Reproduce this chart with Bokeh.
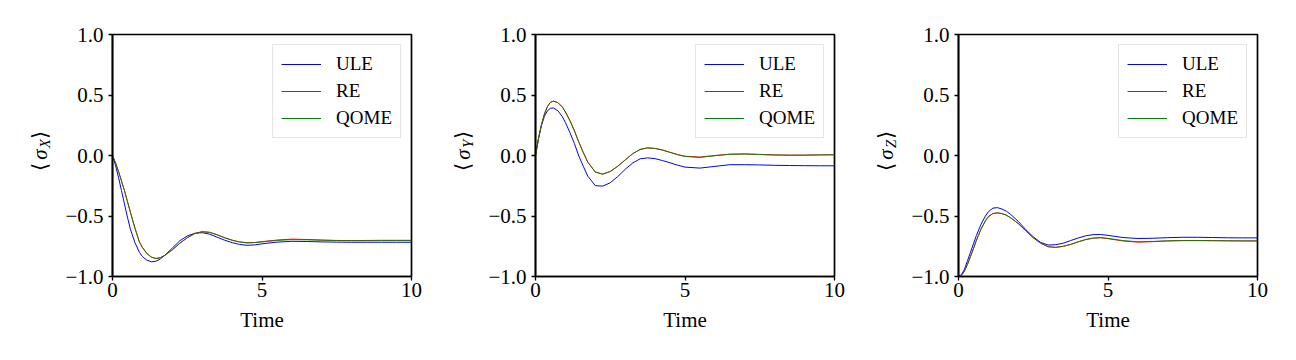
from math import pi
from bokeh.plotting import figure
from bokeh.layouts import row
from bokeh.models import FixedTicker, Legend, LegendItem, Range1d
from bokeh.core.properties import value
from bokeh.embed import file_html
from bokeh.resources import INLINE

# ---------------- data ----------------
time = [0, 0.1, 0.2, 0.3, 0.4, 0.5, 0.6, 0.75, 0.9, 1.0, 1.15, 1.3, 1.45, 1.6,
        1.75, 2.0, 2.25, 2.5, 2.75, 3.0, 3.25, 3.5, 3.75, 4.0, 4.25, 4.5, 4.75,
        5.0, 5.5, 6.0, 6.5, 7.0, 7.5, 8.0, 8.5, 9.0, 9.5, 10.0]

sx_ule = [0, -0.08, -0.18, -0.29, -0.40, -0.51, -0.61, -0.72, -0.80, -0.835, -0.865,
          -0.879, -0.874, -0.855, -0.825, -0.765, -0.705, -0.665, -0.643, -0.638,
          -0.65, -0.675, -0.70, -0.72, -0.735, -0.742, -0.739, -0.73, -0.716, -0.709,
          -0.711, -0.714, -0.716, -0.717, -0.717, -0.717, -0.717, -0.717]
sx_re = [0, -0.06, -0.13, -0.21, -0.29, -0.38, -0.47, -0.60, -0.715, -0.76, -0.81,
         -0.84, -0.851, -0.845, -0.825, -0.78, -0.725, -0.68, -0.645, -0.63, -0.635,
         -0.655, -0.68, -0.70, -0.714, -0.721, -0.719, -0.712, -0.699, -0.691, -0.694,
         -0.699, -0.702, -0.703, -0.702, -0.701, -0.701, -0.701]
sx_qome = [0, -0.06, -0.13, -0.21, -0.29, -0.38, -0.47, -0.60, -0.715, -0.76, -0.81,
           -0.84, -0.851, -0.845, -0.825, -0.78, -0.725, -0.68, -0.645, -0.63, -0.635,
           -0.655, -0.68, -0.70, -0.715, -0.722, -0.72, -0.714, -0.702, -0.695, -0.697,
           -0.70, -0.703, -0.704, -0.704, -0.703, -0.703, -0.703]

sy_ule = [0, 0.14, 0.25, 0.325, 0.37, 0.39, 0.393, 0.37, 0.32, 0.273, 0.19, 0.10,
          -0.005, -0.09, -0.171, -0.249, -0.253, -0.225, -0.174, -0.114, -0.062,
          -0.027, -0.02, -0.026, -0.042, -0.06, -0.08, -0.096, -0.104, -0.09, -0.076,
          -0.076, -0.078, -0.081, -0.083, -0.084, -0.085, -0.085]
sy_re = [0, 0.14, 0.255, 0.345, 0.405, 0.44, 0.449, 0.437, 0.40, 0.36, 0.289, 0.205,
         0.11, 0.024, -0.055, -0.137, -0.154, -0.132, -0.089, -0.037, 0.015, 0.05,
         0.063, 0.058, 0.045, 0.026, 0.007, -0.006, -0.013, 0.0, 0.011, 0.013, 0.009,
         0.005, 0.003, 0.003, 0.005, 0.006]
sy_qome = [0, 0.14, 0.255, 0.345, 0.405, 0.44, 0.449, 0.437, 0.40, 0.36, 0.289, 0.205,
           0.11, 0.024, -0.055, -0.137, -0.154, -0.132, -0.089, -0.037, 0.015, 0.05,
           0.063, 0.058, 0.045, 0.026, 0.007, -0.008, -0.016, -0.002, 0.01, 0.012,
           0.008, 0.004, 0.002, 0.003, 0.005, 0.006]

sz_ule = [-1, -0.985, -0.94, -0.87, -0.80, -0.73, -0.66, -0.57, -0.50, -0.465, -0.435,
          -0.431, -0.442, -0.46, -0.488, -0.545, -0.612, -0.672, -0.719, -0.74, -0.737,
          -0.725, -0.703, -0.682, -0.664, -0.654, -0.653, -0.66, -0.678, -0.686, -0.684,
          -0.679, -0.676, -0.676, -0.678, -0.68, -0.681, -0.681]
sz_re = [-1, -0.99, -0.955, -0.90, -0.835, -0.77, -0.70, -0.61, -0.54, -0.505, -0.48,
         -0.474, -0.48, -0.493, -0.516, -0.563, -0.622, -0.68, -0.725, -0.754, -0.759,
         -0.751, -0.735, -0.714, -0.695, -0.683, -0.679, -0.687, -0.706, -0.716, -0.712,
         -0.706, -0.703, -0.703, -0.704, -0.705, -0.706, -0.706]
sz_qome = [-1, -0.99, -0.955, -0.90, -0.835, -0.77, -0.70, -0.61, -0.54, -0.505, -0.48,
           -0.474, -0.48, -0.493, -0.516, -0.563, -0.622, -0.68, -0.725, -0.754, -0.759,
           -0.751, -0.735, -0.714, -0.695, -0.683, -0.679, -0.685, -0.703, -0.713, -0.71,
           -0.705, -0.703, -0.703, -0.704, -0.705, -0.706, -0.706]

series_names = ["ULE", "RE", "QOME"]
series_colors = ["#0000ff", "#ff0000", "#008000"]
x_ticks = [0, 5, 10]
x_tick_labels = ["0", "5", "10"]
y_ticks = [-1.0, -0.5, 0.0, 0.5, 1.0]
y_tick_labels = ["\u22121.0", "\u22120.5", "0.0", "0.5", "1.0"]
x_label = "Time"
y_subscripts = ["X", "Y", "Z"]

FONT = "Liberation Serif"
NAN = float("nan")
FRAME_H = 242
TOP = 34
BOTTOM = 60


def make_label_fig(sub):
    """Narrow figure that only holds the rotated y-axis label <sigma_sub>."""
    f = figure(frame_width=30, frame_height=FRAME_H,
               x_range=Range1d(0, 1), y_range=Range1d(-1, 1),
               output_backend="svg", toolbar_location=None,
               min_border_left=24, min_border_right=0,
               min_border_top=TOP, min_border_bottom=BOTTOM,
               background_fill_color="white", border_fill_color="white")
    f.axis.visible = False
    f.grid.visible = False
    f.outline_line_color = None
    pieces = [("\u27e8", 0.5, -0.095, "21px", "normal"),
              ("\u03c3", 0.5, 0.008, "21px", "italic"),
              (sub, 0.68, 0.097, "15px", "italic"),
              ("\u27e9", 0.5, 0.170, "21px", "normal")]
    for txt, xx, yy, fs, st in pieces:
        f.text(x=[xx], y=[yy], text=[txt], angle=pi / 2,
               text_align="center", text_baseline="middle",
               text_font=value(FONT), text_font_size=fs, text_font_style=st,
               text_color="black")
    return f


def make_panel(ule, re_, qome):
    p = figure(frame_width=299, frame_height=FRAME_H,
               x_range=Range1d(0, 10), y_range=Range1d(-1, 1),
               output_backend="svg", toolbar_location=None,
               min_border_left=58, min_border_right=12,
               min_border_top=TOP, min_border_bottom=BOTTOM,
               background_fill_color="white", border_fill_color="white")
    p.grid.visible = False
    p.outline_line_color = "black"
    p.outline_line_width = 1.7

    for ax in (p.xaxis[0], p.yaxis[0]):
        ax.axis_line_color = "black"
        ax.axis_line_width = 1.7
        ax.major_tick_line_color = "black"
        ax.major_tick_line_width = 1.3
        ax.major_tick_out = 4
        ax.major_tick_in = 0
        ax.minor_tick_line_color = None
        ax.major_label_text_font = FONT
        ax.major_label_text_font_size = "21px"
        ax.major_label_text_color = "black"
        ax.axis_label_text_font = FONT
        ax.axis_label_text_font_size = "21px"
        ax.axis_label_text_font_style = "normal"
        ax.axis_label_text_color = "black"

    p.xaxis.ticker = FixedTicker(ticks=x_ticks)
    p.xaxis.major_label_overrides = {t: s for t, s in zip(x_ticks, x_tick_labels)}
    p.xaxis.major_label_standoff = 2
    p.xaxis.axis_label = x_label
    p.xaxis.axis_label_standoff = 8

    p.yaxis.ticker = FixedTicker(ticks=y_ticks)
    p.yaxis.major_label_overrides = {t: s for t, s in zip(y_ticks, y_tick_labels)}
    p.yaxis.major_label_standoff = 5

    p.line(time, ule, line_color=series_colors[0], line_width=1)
    p.line(time, re_, line_color=series_colors[1], line_width=1)
    p.line(time, qome, line_color=series_colors[2], line_width=1, line_alpha=0.85)

    # legend proxies (full colour, no visible data)
    proxies = [p.line(time, [NAN] * len(time), line_color=c, line_width=1) for c in series_colors]
    legend = Legend(items=[LegendItem(label=n, renderers=[r]) for n, r in zip(series_names, proxies)],
                    location="top_right", margin=10, padding=8, spacing=5,
                    label_height=20, glyph_width=40, glyph_height=20,
                    label_standoff=15,
                    label_text_font=FONT, label_text_font_size="19px",
                    label_text_color="black",
                    border_line_color="#cccccc", border_line_width=1,
                    background_fill_color="white", background_fill_alpha=0.8)
    p.add_layout(legend)
    return p


children = []
for sub, (u, r, q) in zip(y_subscripts, [(sx_ule, sx_re, sx_qome),
                                         (sy_ule, sy_re, sy_qome),
                                         (sz_ule, sz_re, sz_qome)]):
    children.append(make_label_fig(sub))
    children.append(make_panel(u, r, q))

layout = row(*children, spacing=0)
open("out.html", "w").write(file_html(layout, INLINE))
